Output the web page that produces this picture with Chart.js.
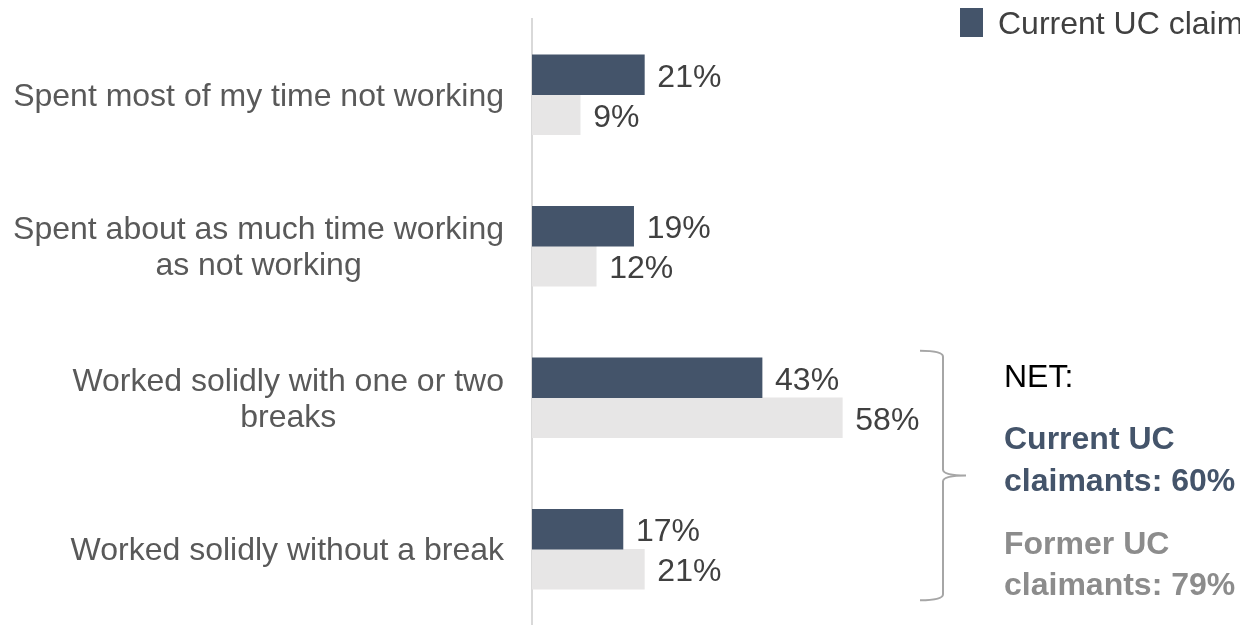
<!DOCTYPE html>
<html>
<head>
<meta charset="utf-8">
<script src="https://cdn.jsdelivr.net/npm/chart.js@4"></script>
<style>
  html, body { margin: 0; padding: 0; background: #fff; }
  #wrap { width: 1240px; height: 625px; position: relative; }
</style>
</head>
<body>
<div id="wrap"><canvas id="timeChart" width="1240" height="625"></canvas></div>
<script>
// Survey answers, one row per category
const categories = [
  ['Spent most of my time not working'],
  ['Spent about as much time working', 'as not working'],
  ['Worked solidly with one or two', 'breaks'],
  ['Worked solidly without a break']
];
const currentClaimants = [21, 19, 43, 17];
const formerClaimants = [9, 12, 58, 21];
const seriesNames = ['Current UC claimants', 'Former UC claimants'];
const netCurrent = 60;
const netFormer = 79;

const DARK = '#44546a';
const LIGHT = '#e7e6e6';
const FONT = '"Liberation Sans", Arial, sans-serif';
const SIZE = 32;

// category labels: each block right-aligned, its lines centred on each other
const categoryLabels = {
  id: 'categoryLabels',
  afterDraw(chart) {
    const ctx = chart.ctx;
    const y = chart.scales.y;
    const right = 504;
    ctx.save();
    ctx.font = SIZE + 'px ' + FONT;
    ctx.fillStyle = '#595959';
    ctx.textBaseline = 'middle';
    ctx.textAlign = 'center';
    categories.forEach((lines, i) => {
      const widest = Math.max(...lines.map(l => ctx.measureText(l).width));
      const cx = right - widest / 2;
      const cy = y.getPixelForValue(i) + 2;
      const lh = 36;
      lines.forEach((l, j) => {
        ctx.fillText(l, cx, cy + (j - (lines.length - 1) / 2) * lh);
      });
    });
    ctx.restore();
  }
};

// value labels at the end of each bar
const valueLabels = {
  id: 'valueLabels',
  afterDatasetsDraw(chart) {
    const ctx = chart.ctx;
    ctx.save();
    ctx.font = SIZE + 'px ' + FONT;
    ctx.fillStyle = '#404040';
    ctx.textBaseline = 'middle';
    ctx.textAlign = 'left';
    chart.data.datasets.forEach((ds, di) => {
      chart.getDatasetMeta(di).data.forEach((bar, i) => {
        ctx.fillText(ds.data[i] + '%', bar.x + 13, bar.y + 3);
      });
    });
    ctx.restore();
  }
};

// legend swatch (cut off by the right edge) plus the NET bracket and totals
const annotations = {
  id: 'annotations',
  afterDraw(chart) {
    const ctx = chart.ctx;
    const y = chart.scales.y;
    ctx.save();

    ctx.fillStyle = DARK;
    ctx.fillRect(960, 8, 23, 29);
    ctx.font = SIZE + 'px ' + FONT;
    ctx.fillStyle = '#404040';
    ctx.textBaseline = 'middle';
    ctx.textAlign = 'left';
    ctx.fillText(seriesNames[0], 998, 25);

    // curly bracket spanning the last two categories
    const top = y.getPixelForValue(2) - 47;
    const bottom = y.getPixelForValue(3) + 51;
    const mid = (top + bottom) / 2;
    const xs = 920, xv = 943, xt = 966;
    ctx.strokeStyle = '#a6a6a6';
    ctx.lineWidth = 2;
    ctx.beginPath();
    ctx.moveTo(xs, top);
    ctx.quadraticCurveTo(xv, top, xv, top + 6);
    ctx.lineTo(xv, mid - 6);
    ctx.quadraticCurveTo(xv, mid, xt, mid);
    ctx.moveTo(xt, mid);
    ctx.quadraticCurveTo(xv, mid, xv, mid + 6);
    ctx.lineTo(xv, bottom - 6);
    ctx.quadraticCurveTo(xv, bottom, xs, bottom);
    ctx.stroke();

    const tx = 1004;
    ctx.font = SIZE + 'px ' + FONT;
    ctx.fillStyle = '#000000';
    ctx.fillText('NET:', tx, 378);
    ctx.font = 'bold ' + SIZE + 'px ' + FONT;
    ctx.fillStyle = DARK;
    ctx.fillText('Current UC', tx, 440);
    ctx.fillText('claimants: ' + netCurrent + '%', tx, 482);
    ctx.fillStyle = '#8c8c8c';
    ctx.fillText('Former UC', tx, 545);
    ctx.fillText('claimants: ' + netFormer + '%', tx, 586);
    ctx.restore();
  }
};

new Chart(document.getElementById('timeChart'), {
  type: 'bar',
  data: {
    labels: categories,
    datasets: [
      { label: seriesNames[0], data: currentClaimants, backgroundColor: DARK, barThickness: 40 },
      { label: seriesNames[1], data: formerClaimants, backgroundColor: LIGHT, barThickness: 40 }
    ]
  },
  options: {
    indexAxis: 'y',
    responsive: false,
    animation: false,
    layout: { padding: { top: 19, right: 280, bottom: 0, left: 0 } },
    plugins: { legend: { display: false }, tooltip: { enabled: false } },
    scales: {
      x: {
        min: 0, max: 80,
        display: false
      },
      y: {
        grid: { display: false, drawTicks: false },
        border: { display: true, color: '#d9d9d9', width: 2 },
        ticks: { display: false },
        afterFit(scale) { scale.width = 532; }
      }
    }
  },
  plugins: [categoryLabels, valueLabels, annotations]
});
</script>
</body>
</html>
